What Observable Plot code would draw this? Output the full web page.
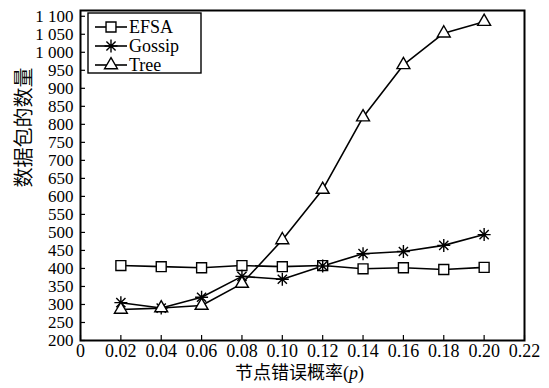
<!DOCTYPE html>
<html>
<head>
<meta charset="utf-8">
<script src="https://cdn.jsdelivr.net/npm/d3@7"></script>
<script src="https://cdn.jsdelivr.net/npm/@observablehq/plot@0.6"></script>
<style>
  html, body { margin: 0; padding: 0; background: #fff; }
  #chart svg { display: block; }
  #chart svg text { font-family: 'Liberation Serif', 'Noto Sans CJK SC', serif; }
</style>
</head>
<body>
<div id="chart"></div>
<script>
const pValues = [0.02, 0.04, 0.06, 0.08, 0.10, 0.12, 0.14, 0.16, 0.18, 0.20];
const efsa   = [408, 405, 402, 408, 405, 408, 399, 402, 397, 403];
const gossip = [305, 290, 320, 378, 370, 407, 441, 447, 464, 494];
const tree   = [286, 290, 297, 358, 479, 619, 820, 965, 1053, 1085];
const seriesNames = ["EFSA", "Gossip", "Tree"];
const xTicks = [0, 0.02, 0.04, 0.06, 0.08, 0.10, 0.12, 0.14, 0.16, 0.18, 0.20, 0.22];
const yTicks = [200, 250, 300, 350, 400, 450, 500, 550, 600, 650, 700, 750, 800, 850, 900, 950, 1000, 1050, 1100];
const xLabel = "节点错误概率(p)";
const yLabel = "数据包的数量";

const FONT = "'Liberation Serif', 'Noto Sans CJK SC', serif";

const asterisk = {
  draw(ctx, size) {
    const r = Math.sqrt(size / Math.PI);
    const d = r * Math.SQRT1_2;
    ctx.moveTo(0, -r); ctx.lineTo(0, r);
    ctx.moveTo(-r, 0); ctx.lineTo(r, 0);
    ctx.moveTo(-d, -d); ctx.lineTo(d, d);
    ctx.moveTo(-d, d); ctx.lineTo(d, -d);
  }
};

const rows = (vals, name) => pValues.map((p, i) => ({p, v: vals[i], name}));
const dEfsa = rows(efsa, seriesNames[0]);
const dGossip = rows(gossip, seriesNames[1]);
const dTree = rows(tree, seriesNames[2]);

const yFmt = d => d >= 1000 ? d3.format(",")(d).replace(",", " ") : String(d);
const xFmt = d => d === 0 ? "0" : d.toFixed(2);

const chart = Plot.plot({
  width: 549,
  height: 388,
  marginLeft: 80,
  marginRight: 25,
  marginTop: 10,
  marginBottom: 48,
  style: {fontFamily: FONT, fontSize: "17px", color: "#000", background: "#fff"},
  x: {domain: [0, 0.22]},
  y: {domain: [200, 1116]},
  marks: [
    Plot.axisX({ticks: xTicks, tickSize: -5, fill: "none", strokeWidth: 1.2, label: null}),
    Plot.axisX({ticks: xTicks, tickSize: 0, tickPadding: 4, tickFormat: xFmt, label: null, fontSize: 18, fontFamily: FONT}),
    Plot.axisY({ticks: yTicks, tickSize: -5, fill: "none", strokeWidth: 1.2, label: null}),
    Plot.axisY({ticks: yTicks, tickSize: 0, tickPadding: 7, tickFormat: yFmt, label: null, fontSize: 17, fontFamily: FONT}),
    Plot.line(dEfsa, {x: "p", y: "v", stroke: "#000", strokeWidth: 1.6}),
    Plot.line(dGossip, {x: "p", y: "v", stroke: "#000", strokeWidth: 1.6}),
    Plot.line(dTree, {x: "p", y: "v", stroke: "#000", strokeWidth: 1.6}),
    Plot.dot(dEfsa, {x: "p", y: "v", symbol: "square", r: 5.6, stroke: "#000", fill: "#fff", strokeWidth: 1.4}),
    Plot.dot(dGossip, {x: "p", y: "v", symbol: asterisk, r: 6.5, stroke: "#000", fill: "none", strokeWidth: 1.4}),
    Plot.dot(dTree, {x: "p", y: "v", symbol: "triangle", r: 4.8, stroke: "#000", fill: "#fff", strokeWidth: 1.4}),
    Plot.text([yLabel], {frameAnchor: "left", dx: -56, dy: 12, rotate: -90, fontSize: 20, fill: "#000", fillOpacity: 0.99, fontFamily: FONT}),
    Plot.text([xLabel], {frameAnchor: "bottom", dx: -3, dy: 38, fontSize: 18, fill: "#000", fontFamily: FONT}),
    Plot.frame({stroke: "#000", strokeWidth: 2})
  ]
});

document.getElementById("chart").appendChild(chart);

// italic p in x label
d3.select(chart).selectAll("text").filter(function() { return this.textContent === xLabel; }).each(function() {
  const t = d3.select(this);
  t.text("");
  t.append("tspan").text("节点错误概率(");
  t.append("tspan").attr("font-style", "italic").text("p");
  t.append("tspan").text(")");
});

// legend
const svg = d3.select(chart);
const lg = svg.append("g").attr("font-family", FONT).attr("font-size", 18).attr("text-anchor", "start");
lg.append("rect").attr("x", 88).attr("y", 13).attr("width", 113).attr("height", 60)
  .attr("fill", "#fff").attr("stroke", "#000").attr("stroke-width", 1.4);
const markerSyms = [d3.symbolSquare, asterisk, d3.symbolTriangle];
const markerR = [5.6, 6.5, 4.8];
seriesNames.forEach((name, i) => {
  const y = 27 + i * 19;
  lg.append("line").attr("x1", 95).attr("x2", 127).attr("y1", y).attr("y2", y)
    .attr("stroke", "#000").attr("stroke-width", 1.6);
  lg.append("path").attr("transform", `translate(111,${y})`)
    .attr("d", d3.symbol(markerSyms[i], markerR[i] * markerR[i] * Math.PI)())
    .attr("fill", i === 1 ? "none" : "#fff").attr("stroke", "#000").attr("stroke-width", 1.4);
  lg.append("text").attr("x", 129).attr("y", y).attr("dy", "0.35em").attr("fill", "#000")
    .attr("text-anchor", "start").text(name);
});
</script>
</body>
</html>
